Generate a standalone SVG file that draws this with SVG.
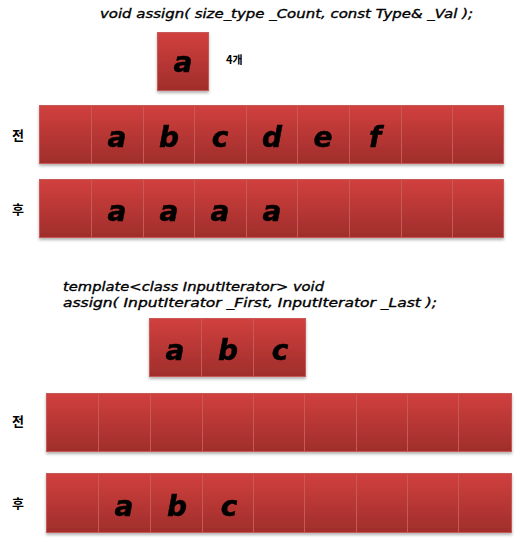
<svg xmlns="http://www.w3.org/2000/svg" width="520" height="542" viewBox="0 0 520 542">
<defs>
<linearGradient id="g" x1="0" y1="0" x2="0" y2="1">
<stop offset="0" stop-color="#d1403e"/>
<stop offset="1" stop-color="#9f2e2b"/>
</linearGradient>
<filter id="sh" x="-10%" y="-10%" width="120%" height="130%">
<feDropShadow dx="0" dy="2" stdDeviation="1.5" flood-color="#000" flood-opacity="0.3"/>
</filter>
</defs>
<style>
.c{fill:url(#g);stroke:#c75a58;stroke-width:1}
.row{filter:url(#sh)}
.L{font-family:"DejaVu Sans",Verdana,sans-serif;font-weight:bold;font-style:italic;font-size:28px;text-anchor:middle;fill:#000;stroke:#000;stroke-width:0.5}
.code{font-family:"DejaVu Sans",Verdana,sans-serif;font-style:italic;font-size:12px;fill:#000;stroke:#000;stroke-width:0.35}
.k{font-family:"Noto Sans CJK KR","Noto Sans",sans-serif;font-weight:bold;font-size:13px;text-anchor:middle;fill:#000}
</style>
<rect width="520" height="542" fill="#fff"/>

<g id="sig1">
<text class="code" x="100" y="18" textLength="373" lengthAdjust="spacingAndGlyphs">void assign( size_type _Count, const Type&amp; _Val );</text>
</g>

<g id="value" class="row">
<rect class="c" x="157.5" y="32.5" width="51" height="58"/>
<text class="L" x="183" y="72">a</text>
</g>
<g id="count">
<text x="226" y="64" font-family="Noto Sans CJK KR,sans-serif" font-weight="bold" font-size="11">4개</text>
</g>

<g id="label1">
<text class="k" x="18" y="140">전</text>
</g>
<g id="row1" class="row">
<rect class="c" x="39.5" y="105.5" width="52" height="58"/>
<rect class="c" x="91.5" y="105.5" width="52" height="58"/>
<rect class="c" x="143.5" y="105.5" width="51" height="58"/>
<rect class="c" x="194.5" y="105.5" width="52" height="58"/>
<rect class="c" x="246.5" y="105.5" width="51" height="58"/>
<rect class="c" x="297.5" y="105.5" width="52" height="58"/>
<rect class="c" x="349.5" y="105.5" width="52" height="58"/>
<rect class="c" x="401.5" y="105.5" width="51" height="58"/>
<rect class="c" x="452.5" y="105.5" width="51" height="58"/>
<text class="L" x="117" y="147">a</text>
<text class="L" x="169" y="147">b</text>
<text class="L" x="220" y="147">c</text>
<text class="L" x="272" y="147">d</text>
<text class="L" x="323" y="147">e</text>
<text class="L" x="375" y="147">f</text>
</g>

<g id="label2">
<text class="k" x="18" y="214">후</text>
</g>
<g id="row2" class="row">
<rect class="c" x="39.5" y="179.5" width="52" height="58"/>
<rect class="c" x="91.5" y="179.5" width="52" height="58"/>
<rect class="c" x="143.5" y="179.5" width="51" height="58"/>
<rect class="c" x="194.5" y="179.5" width="52" height="58"/>
<rect class="c" x="246.5" y="179.5" width="51" height="58"/>
<rect class="c" x="297.5" y="179.5" width="52" height="58"/>
<rect class="c" x="349.5" y="179.5" width="52" height="58"/>
<rect class="c" x="401.5" y="179.5" width="51" height="58"/>
<rect class="c" x="452.5" y="179.5" width="51" height="58"/>
<text class="L" x="117" y="221">a</text>
<text class="L" x="169" y="221">a</text>
<text class="L" x="220" y="221">a</text>
<text class="L" x="272" y="221">a</text>
</g>

<g id="sig2">
<text class="code" x="63" y="291" textLength="261" lengthAdjust="spacingAndGlyphs">template&lt;class InputIterator&gt; void</text>
<text class="code" x="63" y="307" textLength="374" lengthAdjust="spacingAndGlyphs">assign( InputIterator _First, InputIterator _Last );</text>
</g>

<g id="range" class="row">
<rect class="c" x="149.5" y="318.5" width="52" height="58"/>
<rect class="c" x="201.5" y="318.5" width="52" height="58"/>
<rect class="c" x="253.5" y="318.5" width="52" height="58"/>
<text class="L" x="175" y="360">a</text>
<text class="L" x="228" y="360">b</text>
<text class="L" x="280" y="360">c</text>
</g>

<g id="label3">
<text class="k" x="18" y="426">전</text>
</g>
<g id="row3" class="row">
<rect class="c" x="46.5" y="393.5" width="52" height="58"/>
<rect class="c" x="98.5" y="393.5" width="52" height="58"/>
<rect class="c" x="150.5" y="393.5" width="52" height="58"/>
<rect class="c" x="202.5" y="393.5" width="51" height="58"/>
<rect class="c" x="253.5" y="393.5" width="51" height="58"/>
<rect class="c" x="304.5" y="393.5" width="52" height="58"/>
<rect class="c" x="356.5" y="393.5" width="51" height="58"/>
<rect class="c" x="407.5" y="393.5" width="51" height="58"/>
<rect class="c" x="458.5" y="393.5" width="53" height="58"/>
</g>

<g id="label4">
<text class="k" x="18" y="508">후</text>
</g>
<g id="row4" class="row">
<rect class="c" x="46.5" y="473.5" width="52" height="59"/>
<rect class="c" x="98.5" y="473.5" width="52" height="59"/>
<rect class="c" x="150.5" y="473.5" width="52" height="59"/>
<rect class="c" x="202.5" y="473.5" width="51" height="59"/>
<rect class="c" x="253.5" y="473.5" width="51" height="59"/>
<rect class="c" x="304.5" y="473.5" width="52" height="59"/>
<rect class="c" x="356.5" y="473.5" width="51" height="59"/>
<rect class="c" x="407.5" y="473.5" width="51" height="59"/>
<rect class="c" x="458.5" y="473.5" width="53" height="59"/>
<text class="L" x="124" y="516">a</text>
<text class="L" x="177" y="516">b</text>
<text class="L" x="229" y="516">c</text>
</g>
</svg>
